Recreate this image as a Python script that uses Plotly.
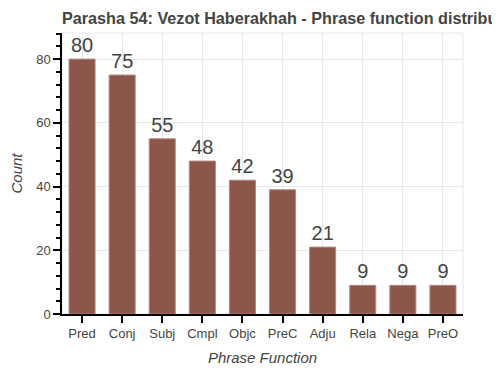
import plotly.graph_objects as go

categories = ["Pred", "Conj", "Subj", "Cmpl", "Objc", "PreC", "Adju", "Rela", "Nega", "PreO"]
counts = [80, 75, 55, 48, 42, 39, 21, 9, 9, 9]
y_ticks = [0, 20, 40, 60, 80]

fig = go.Figure()
fig.add_trace(go.Bar(
    x=categories, y=counts, width=0.65,
    marker=dict(color="#8c564b", line=dict(color="#b08a80", width=1)),
    text=[str(c) for c in counts], textposition="outside",
    textfont=dict(size=20, color="#444444", family="Liberation Sans, Arial, sans-serif"),
    cliponaxis=False,
))

# page body has an 8px margin, so the figure is placed 8px right/down
fig.update_layout(
    width=500, height=375,
    margin=dict(l=54, r=45, t=25, b=69, autoexpand=False),
    paper_bgcolor="white", plot_bgcolor="white",
    showlegend=False,
    font=dict(family="Liberation Sans, Arial, sans-serif", color="#444444"),
    title=dict(text="<b>Parasha 54: Vezot Haberakhah - Phrase function distribution</b>",
               x=54/500, xanchor="left", y=1-10/375, yanchor="middle",
               font=dict(size=16.2, color="#444444")),
)
fig.update_xaxes(
    range=[-0.5, 9.5], showline=True, linecolor="black", linewidth=1.5,
    ticks="outside", ticklen=7, tickcolor="black", tickwidth=1.5,
    showgrid=True, gridcolor="#e8e8e8", gridwidth=1, automargin=False,
    tickfont=dict(size=13, color="#444444"),
    title=dict(text="<i>Phrase Function</i>", font=dict(size=15, color="#444444"), standoff=12),
)
fig.update_yaxes(
    range=[0, 88.2], tickvals=y_ticks, showline=True, linecolor="black", linewidth=1.5,
    ticks="outside", ticklen=7, tickcolor="black", tickwidth=1.5,
    minor=dict(ticks="outside", ticklen=4, tickcolor="black", dtick=4, showgrid=False),
    showgrid=True, gridcolor="#e8e8e8", gridwidth=1, zeroline=False, automargin=False,
    tickfont=dict(size=13, color="#444444"),
    title=dict(text="<i>Count</i>", font=dict(size=15, color="#444444"), standoff=12),
)
fig.add_shape(type="rect", xref="paper", yref="paper", x0=0, y0=0, x1=1, y1=1,
              line=dict(color="#e8e8e8", width=1), layer="below")

fig.write_html("out.html")
